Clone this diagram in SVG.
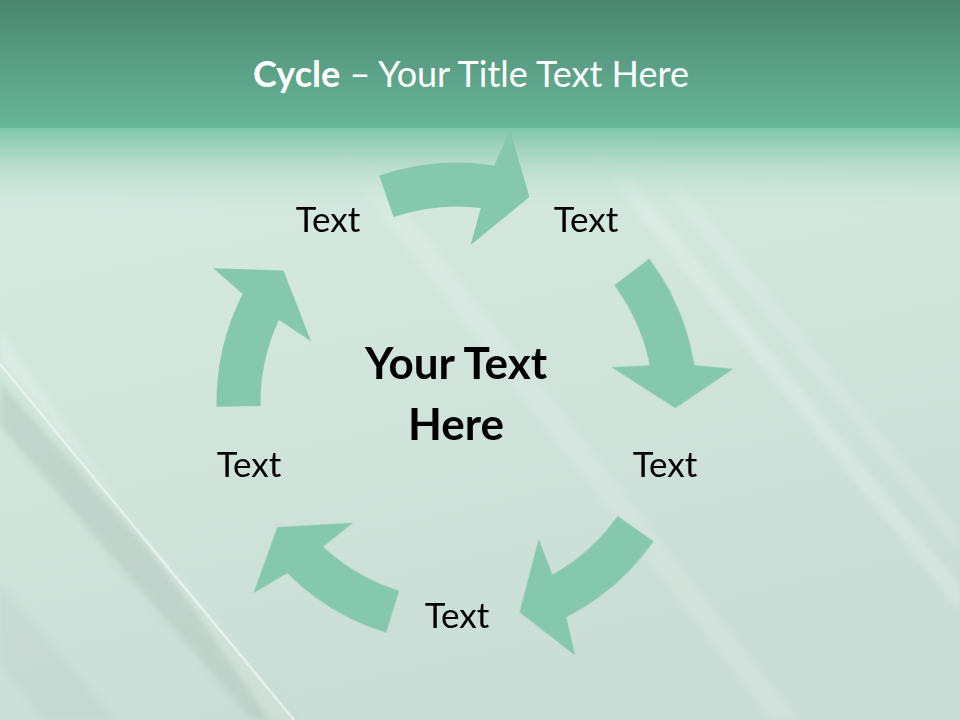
<svg xmlns="http://www.w3.org/2000/svg" width="960" height="720" viewBox="0 0 960 720">
  <defs>
    <linearGradient id="hdr" x1="0" y1="0" x2="0" y2="1">
      <stop offset="0" stop-color="#4A8570"/>
      <stop offset="0.5" stop-color="#5A9F85"/>
      <stop offset="1" stop-color="#67B699"/>
    </linearGradient>
    <linearGradient id="fade" x1="0" y1="0" x2="0" y2="1">
      <stop offset="0" stop-color="#7FC5AA" stop-opacity="1"/>
      <stop offset="0.45" stop-color="#B5DBCB" stop-opacity="0.8"/>
      <stop offset="1" stop-color="#D4E9E1" stop-opacity="0"/>
    </linearGradient>
    <linearGradient id="body" x1="0" y1="0" x2="0.3" y2="1">
      <stop offset="0" stop-color="#D8ECE5"/>
      <stop offset="0.5" stop-color="#D2E6DE"/>
      <stop offset="1" stop-color="#CADDD6"/>
    </linearGradient>
    <filter id="soft" x="-0.1" y="-0.1" width="1.2" height="1.2">
      <feGaussianBlur stdDeviation="3"/>
    </filter>
    <path id="arrow" d="M379.2,175.5 A239,239 0 0 1 494.4,165.4 L509.9,129.6 L529.4,197.0 L470.7,245.1 L480.8,208.0 A195,195 0 0 0 393.5,217.1 Z"/>
  </defs>
  <style>
    .arr { fill: #86C8AF; }
    .lbl { font-family: Lato, "Open Sans", "DejaVu Sans", sans-serif; font-size: 35px; fill: #000; text-anchor: middle; }
    .ctr { font-family: Lato, "Open Sans", "DejaVu Sans", sans-serif; font-size: 44px; font-weight: bold; fill: #000; text-anchor: middle; }
    .ttl { font-family: Lato, "Open Sans", "DejaVu Sans", sans-serif; font-size: 36px; fill: #FFFFFF; text-anchor: middle; }
  </style>

  <!-- background -->
  <rect x="0" y="0" width="960" height="720" fill="url(#body)"/>
  <g id="streaks" filter="url(#soft)">
    <polygon points="0,382 0,425 252,720 298,720" fill="#B5C6C0" opacity="0.55"/>
    <polygon points="0,585 0,665 45,720 115,720" fill="#BCCCC6" opacity="0.3"/>
    <polygon points="0,330 0,360 296,720 270,720" fill="#E2F1EC" opacity="0.45"/>
    <polygon points="570,130 592,130 960,585 960,612" fill="#FFFFFF" opacity="0.2"/>
    <polygon points="615,130 640,130 960,530 960,555" fill="#FFFFFF" opacity="0.1"/>
    <polygon points="315,130 345,130 800,720 770,720" fill="#FFFFFF" opacity="0.12"/>
  </g>
  <line x1="0" y1="364" x2="294" y2="720" stroke="#EEF8F4" stroke-width="2.5" opacity="0.7"/>
  <rect x="0" y="128" width="960" height="90" fill="url(#fade)"/>
  <rect x="0" y="0" width="960" height="128" fill="url(#hdr)"/>

  <text id="title" class="ttl" x="471" y="87"><tspan font-weight="bold">Cycle</tspan> – Your Title Text Here</text>

  <g id="connectors">
    <use href="#arrow" class="arr"/>
    <use href="#arrow" class="arr" transform="rotate(72 457 403)"/>
    <use href="#arrow" class="arr" transform="rotate(144 457 403)"/>
    <use href="#arrow" class="arr" transform="rotate(216 457 403)"/>
    <use href="#arrow" class="arr" transform="rotate(288 457 403)"/>
  </g>

  <g id="node-center"><text class="ctr" x="456" y="379">Your Text</text><text class="ctr" x="456" y="440">Here</text></g>
  <g id="node-1"><text class="lbl" x="328" y="232">Text</text></g>
  <g id="node-2"><text class="lbl" x="586" y="232">Text</text></g>
  <g id="node-3"><text class="lbl" x="665" y="477">Text</text></g>
  <g id="node-4"><text class="lbl" x="457" y="628">Text</text></g>
  <g id="node-5"><text class="lbl" x="249" y="477">Text</text></g>
</svg>
